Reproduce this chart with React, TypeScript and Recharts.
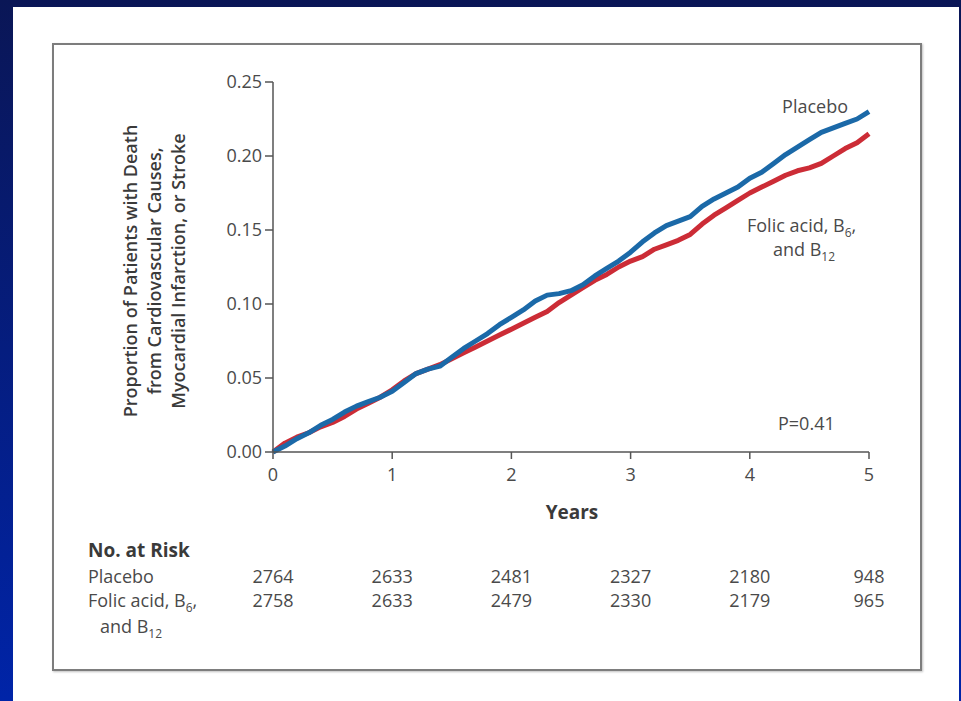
import { LineChart, Line, XAxis, YAxis } from 'recharts';

const years = [
  0, 0.1, 0.2, 0.3, 0.4, 0.5, 0.6, 0.7, 0.8, 0.9,
  1, 1.1, 1.2, 1.3, 1.4, 1.5, 1.6, 1.7, 1.8, 1.9,
  2, 2.1, 2.2, 2.3, 2.4, 2.5, 2.6, 2.7, 2.8, 2.9,
  3, 3.1, 3.2, 3.3, 3.4, 3.5, 3.6, 3.7, 3.8, 3.9,
  4, 4.1, 4.2, 4.3, 4.4, 4.5, 4.6, 4.7, 4.8, 4.9, 5,
];

const placebo = [
  0.0, 0.004, 0.009, 0.013, 0.018, 0.022, 0.027, 0.031, 0.034, 0.037,
  0.041, 0.047, 0.053, 0.056, 0.058, 0.064, 0.07, 0.075, 0.08, 0.086,
  0.091, 0.096, 0.102, 0.106, 0.107, 0.109, 0.113, 0.119, 0.124, 0.129,
  0.135, 0.142, 0.148, 0.153, 0.156, 0.159, 0.166, 0.171, 0.175, 0.179,
  0.185, 0.189, 0.195, 0.201, 0.206, 0.211, 0.216, 0.219, 0.222, 0.225, 0.23,
];

const folicAcid = [
  0.0, 0.006, 0.01, 0.013, 0.017, 0.02, 0.024, 0.029, 0.033, 0.037,
  0.042, 0.048, 0.053, 0.056, 0.059, 0.063, 0.067, 0.071, 0.075, 0.079,
  0.083, 0.087, 0.091, 0.095, 0.101, 0.106, 0.111, 0.116, 0.12, 0.125,
  0.129, 0.132, 0.137, 0.14, 0.143, 0.147, 0.154, 0.16, 0.165, 0.17,
  0.175, 0.179, 0.183, 0.187, 0.19, 0.192, 0.195, 0.2, 0.205, 0.209, 0.215,
];

const yearTicks = [0, 1, 2, 3, 4, 5];
const proportionTicks = [0, 0.05, 0.1, 0.15, 0.2, 0.25];
const placeboAtRisk = [2764, 2633, 2481, 2327, 2180, 948];
const folicAtRisk = [2758, 2633, 2479, 2330, 2179, 965];

const data = years.map((t, i) => ({ t, placebo: placebo[i], folic: folicAcid[i] }));

const FONT = '"Open Sans", sans-serif';
const TEXT = '#4a4a4a';

function YearTick({ x, y, payload }: any) {
  const i = yearTicks.indexOf(payload.value);
  return (
    <g fontFamily={FONT} fontSize={18} fill={TEXT} textAnchor="middle">
      <text x={x} y={y + 20}>{payload.value}</text>
      <text x={x} y={y + 122}>{placeboAtRisk[i]}</text>
      <text x={x} y={y + 146}>{folicAtRisk[i]}</text>
    </g>
  );
}

export default function App() {
  return (
    <div
      style={{
        position: 'absolute',
        left: 0,
        top: 0,
        width: 961,
        height: 701,
        overflow: 'hidden',
        background: 'linear-gradient(to bottom, #0a1656, #0024a8)',
      }}
    >
      <div style={{ position: 'absolute', left: 13, top: 7, width: 946, height: 694, background: '#fff' }} />
      <div
        style={{
          position: 'absolute',
          left: 52,
          top: 43,
          width: 866,
          height: 624,
          border: '2px solid #7d7d7d',
          boxShadow: '1px 1px 2px rgba(0,0,0,0.25)',
        }}
      />
      <div style={{ position: 'absolute', left: 0, top: 0 }}>
        <LineChart width={961} height={701} data={data} margin={{ top: 82, right: 92, left: 213, bottom: 219 }}>
          <XAxis
            dataKey="t"
            type="number"
            domain={[0, 5]}
            ticks={yearTicks}
            height={30}
            tickSize={7}
            stroke="#555"
            strokeWidth={1.5}
            tick={<YearTick />}
            interval={0}
          />
          <YAxis
            type="number"
            domain={[0, 0.25]}
            ticks={proportionTicks}
            width={60}
            tickSize={8}
            tickMargin={3}
            stroke="#555"
            strokeWidth={1.5}
            tickFormatter={(v: number) => v.toFixed(2)}
            tick={{ fill: TEXT, fontSize: 18, fontFamily: FONT }}
          />
          <Line
            type="linear"
            dataKey="folic"
            stroke="#cc2c36"
            strokeWidth={5}
            dot={false}
            strokeLinejoin="round"
            isAnimationActive={false}
          />
          <Line
            type="linear"
            dataKey="placebo"
            stroke="#1b69a8"
            strokeWidth={5}
            dot={false}
            strokeLinejoin="round"
            isAnimationActive={false}
          />
        </LineChart>
      </div>
      <svg
        width={961}
        height={701}
        style={{ position: 'absolute', left: 0, top: 0, pointerEvents: 'none' }}
        fontFamily={FONT}
      >
        <g transform="translate(155 271) rotate(-90)" textAnchor="middle" fontSize={18} fontWeight={600} fill="#3a3a3a">
          <text x={0} y={-18}>Proportion of Patients with Death</text>
          <text x={0} y={6}>from Cardiovascular Causes,</text>
          <text x={0} y={30}>Myocardial Infarction, or Stroke</text>
        </g>
        <text x={572} y={519} textAnchor="middle" fontSize={19} fontWeight={700} fill="#3a3a3a">Years</text>
        <g fontSize={18} fill={TEXT}>
          <text x={848} y={113} textAnchor="end">Placebo</text>
          <text x={747} y={232}>
            Folic acid, B<tspan fontSize={12} dy={5}>6</tspan><tspan dy={-5}>,</tspan>
          </text>
          <text x={773} y={256}>
            and B<tspan fontSize={12} dy={5}>12</tspan>
          </text>
          <text x={778} y={430}>P=0.41</text>
        </g>
        <text x={88} y={557} fontSize={19} fontWeight={700} fill="#3a3a3a">No. at Risk</text>
        <g fontSize={18} fill={TEXT}>
          <text x={88} y={583}>Placebo</text>
          <text x={88} y={607}>
            Folic acid, B<tspan fontSize={12} dy={5}>6</tspan><tspan dy={-5}>,</tspan>
          </text>
          <text x={100} y={633}>
            and B<tspan fontSize={12} dy={5}>12</tspan>
          </text>
        </g>
      </svg>
    </div>
  );
}
